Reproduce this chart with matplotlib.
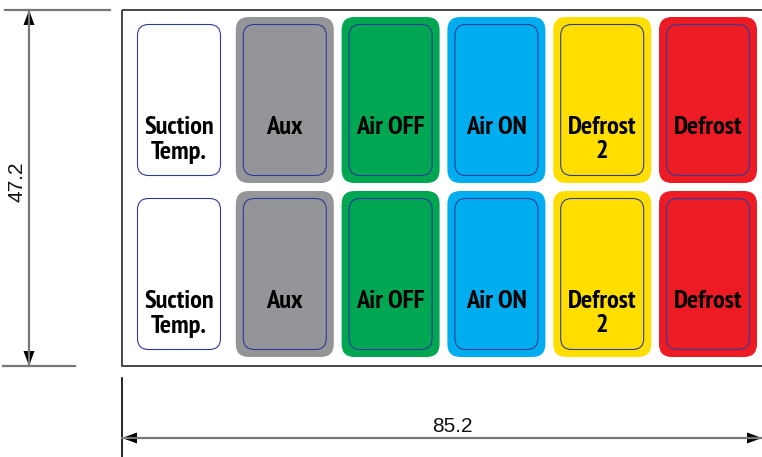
import matplotlib
matplotlib.use("Agg")
import matplotlib.pyplot as plt
from matplotlib.patches import FancyBboxPatch, Rectangle, Polygon

labels = ["Suction\nTemp.", "Aux", "Air OFF", "Air ON", "Defrost\n2", "Defrost"]
fills = ["#FFFFFF", "#939598", "#00A651", "#00AEEF", "#FFDE00", "#ED1C24"]
rows = 2
width_mm = 85.2
height_mm = 47.2

W, H = 762, 457
fig = plt.figure(figsize=(W / 100, H / 100), dpi=100)
ax = fig.add_axes([0, 0, 1, 1])
ax.set_xlim(0, W)
ax.set_ylim(H, 0)
ax.axis("off")

font = ["PT Sans Narrow", "DejaVu Sans"]
dimfont = ["Liberation Sans", "DejaVu Sans"]

# panel outline
ax.add_patch(Rectangle((122, 10), 660, 356, fill=False, ec="#3a3a3a", lw=1.3))

col0, pitch = 130, 105.8
row0, rpitch = 17, 174
ow, oh = 98, 166
inset = 7.5
for r in range(rows):
    for i, (lab, fc) in enumerate(zip(labels, fills)):
        x = col0 + i * pitch
        y = row0 + r * rpitch
        if fc.upper() != "#FFFFFF":
            ax.add_patch(FancyBboxPatch((x, y), ow, oh,
                                        boxstyle="round,pad=0,rounding_size=13",
                                        fc=fc, ec="none"))
        ax.add_patch(FancyBboxPatch((x + inset, y + inset), ow - 2 * inset, oh - 2 * inset,
                                    boxstyle="round,pad=0,rounding_size=11",
                                    fc=fc, ec="#2E3B9A", lw=0.8))
        lines = lab.split("\n")
        for k, ln in enumerate(lines):
            ax.text(x + ow / 2, y + 110 + k * 25, ln, ha="center", va="center",
                    fontsize=19, fontweight="bold", family=font, color="#000000")

dimc = "#777777"
# vertical dimension
ax.plot([5, 110], [10, 10], color=dimc, lw=1.6)
ax.plot([3, 75], [366, 366], color=dimc, lw=1.6)
ax.plot([29, 29], [10, 366], color=dimc, lw=1.6)
ax.add_patch(Polygon([[29, 10], [23.5, 25], [34.5, 25]], closed=True, fc="black", ec="none"))
ax.add_patch(Polygon([[29, 366], [23.5, 351], [34.5, 351]], closed=True, fc="black", ec="none"))
ax.text(17, 182, f"{height_mm:.1f}", rotation=90, ha="center", va="center",
        fontsize=15, family=dimfont, color="#111111")

# horizontal dimension
ax.plot([122, 122], [378, 457], color="black", lw=1.2)
ax.plot([122, 762], [438, 438], color=dimc, lw=1.6)
ax.add_patch(Polygon([[122, 438], [137, 432.5], [137, 443.5]], closed=True, fc="black", ec="none"))
ax.add_patch(Polygon([[762, 438], [747, 432.5], [747, 443.5]], closed=True, fc="black", ec="none"))
ax.text(452, 426, f"{width_mm:.1f}", ha="center", va="center",
        fontsize=15, family=dimfont, color="#111111")

fig.savefig("out.png", dpi=100)
